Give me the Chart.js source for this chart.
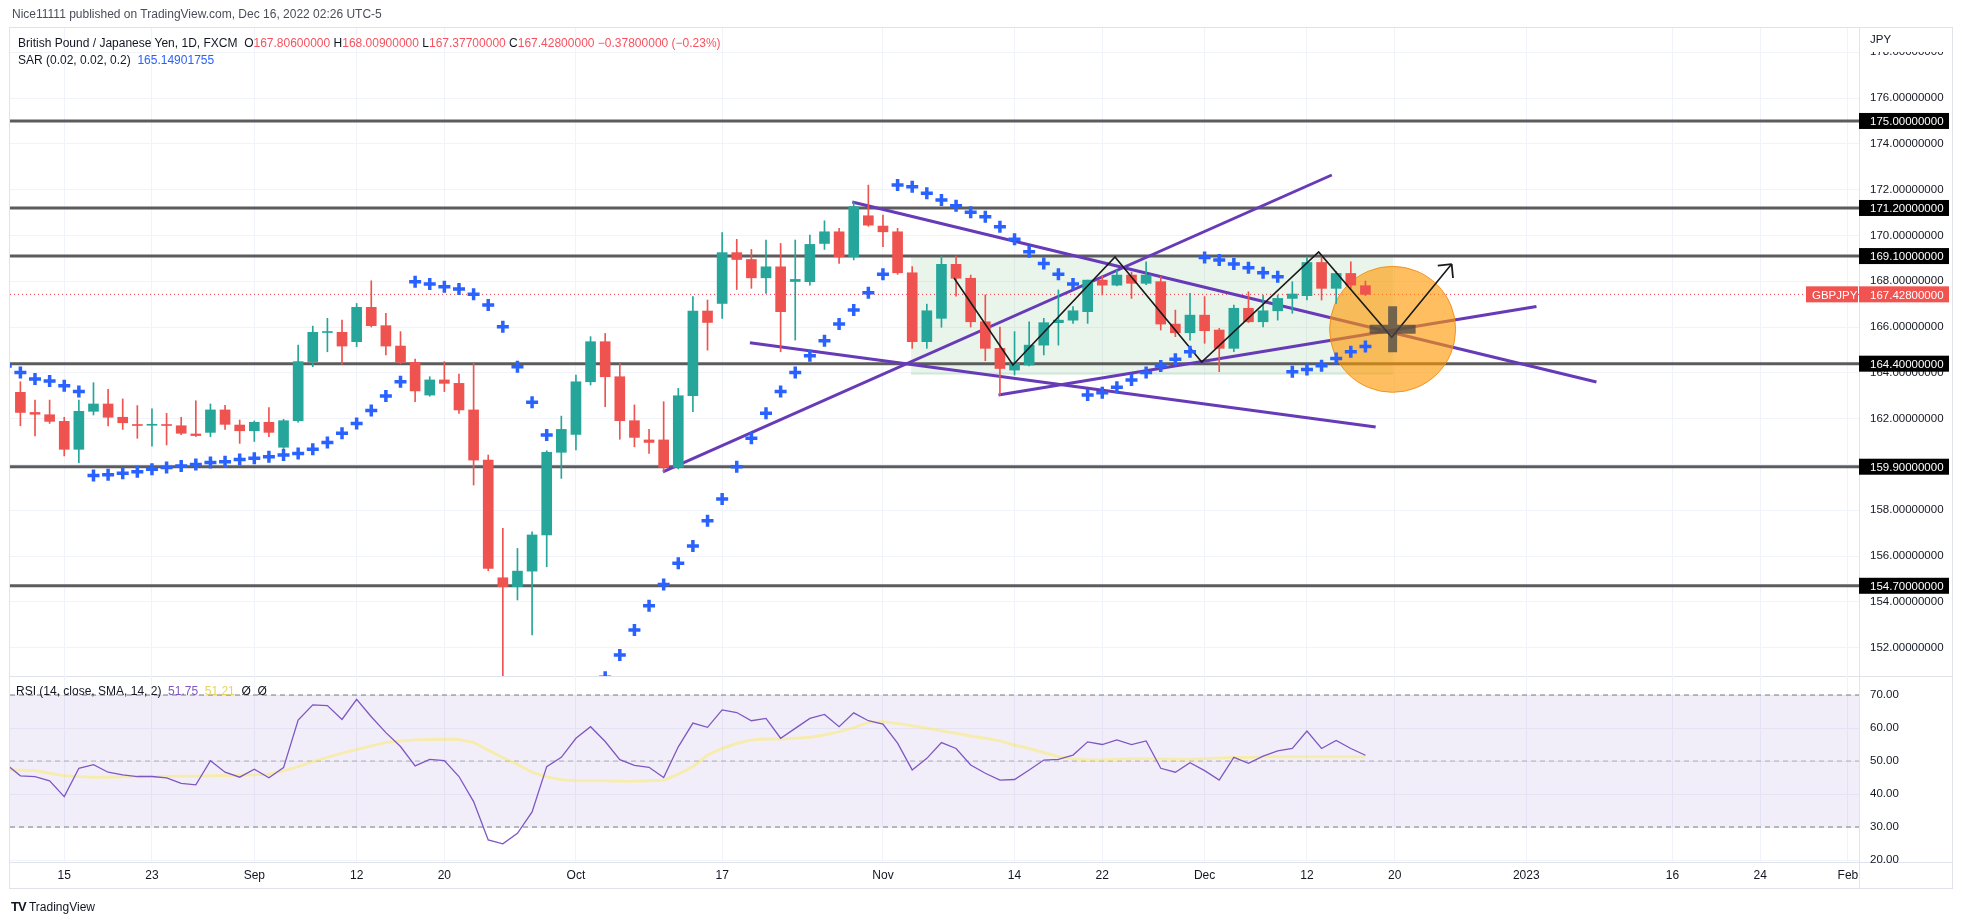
<!DOCTYPE html>
<html>
<head>
<meta charset="utf-8">
<title>GBPJPY 1D</title>
<script src="https://cdn.jsdelivr.net/npm/chart.js@4.4.1/dist/chart.umd.min.js"></script>
<style>
  html, body { margin: 0; padding: 0; background: #fff; }
  body { position: relative; width: 1963px; height: 924px; overflow: hidden;
         font-family: 'Liberation Sans', Arial, sans-serif; color: #131722; }
  .t { position: absolute; white-space: nowrap; font-size: 12px; line-height: 14px; }
  .ln { position: absolute; background: #e0e3eb; }
  canvas { position: absolute; left: 0; }
  .red { color: #f7525f; }
  .blue { color: #2962ff; }
</style>
</head>
<body>
<div class="ln" style="left:9px;top:27px;width:1944px;height:1px"></div>
<div class="ln" style="left:9px;top:888px;width:1944px;height:1px"></div>
<div class="ln" style="left:9px;top:27px;width:1px;height:862px"></div>
<div class="ln" style="left:1952px;top:27px;width:1px;height:862px"></div>
<div class="ln" style="left:1859px;top:27px;width:1px;height:862px"></div>
<div class="ln" style="left:9px;top:676px;width:1944px;height:1px"></div>
<div class="ln" style="left:9px;top:862px;width:1944px;height:1px"></div>

<canvas id="price" width="1963" height="676" style="top:0"></canvas>
<canvas id="rsi" width="1963" height="248" style="top:676px"></canvas>

<div class="t" style="left:12px;top:7px;color:#4a4e59">Nice11111 published on TradingView.com, Dec 16, 2022 02:26 UTC-5</div>
<div class="t" style="left:18px;top:36px">British Pound / Japanese Yen, 1D, FXCM&nbsp;&nbsp;O<span class="red">167.80600000</span>&nbsp;H<span class="red">168.00900000</span>&nbsp;L<span class="red">167.37700000</span>&nbsp;C<span class="red">167.42800000</span>&nbsp;<span class="red">−0.37800000 (−0.23%)</span></div>
<div class="t" style="left:18px;top:53px">SAR (0.02, 0.02, 0.2)&nbsp;&nbsp;<span class="blue">165.14901755</span></div>
<div class="t" style="left:16px;top:684px">RSI (14, close, SMA, 14, 2)&nbsp;&nbsp;<span style="color:#7e57c2">51.75</span>&nbsp;&nbsp;<span style="color:#e6d45c">51.21</span>&nbsp;&nbsp;Ø&nbsp;&nbsp;Ø</div>
<div class="t" style="left:11px;top:900px"><b style="font-size:13px;letter-spacing:-1px">TV</b>&nbsp;TradingView</div>

<script>
// trading days shown, Aug 9 .. Dec 16 2022
const dates = [
  'Aug 9','Aug 10','Aug 11','Aug 12','Aug 15','Aug 16','Aug 17','Aug 18','Aug 19','Aug 22','Aug 23','Aug 24','Aug 25','Aug 26','Aug 29','Aug 30','Aug 31',
  'Sep 1','Sep 2','Sep 5','Sep 6','Sep 7','Sep 8','Sep 9','Sep 12','Sep 13','Sep 14','Sep 15','Sep 16','Sep 19','Sep 20','Sep 21','Sep 22','Sep 23','Sep 26','Sep 27','Sep 28','Sep 29','Sep 30',
  'Oct 3','Oct 4','Oct 5','Oct 6','Oct 7','Oct 10','Oct 11','Oct 12','Oct 13','Oct 14','Oct 17','Oct 18','Oct 19','Oct 20','Oct 21','Oct 24','Oct 25','Oct 26','Oct 27','Oct 28','Oct 31',
  'Nov 1','Nov 2','Nov 3','Nov 4','Nov 7','Nov 8','Nov 9','Nov 10','Nov 11','Nov 14','Nov 15','Nov 16','Nov 17','Nov 18','Nov 21','Nov 22','Nov 23','Nov 24','Nov 25','Nov 28','Nov 29','Nov 30',
  'Dec 1','Dec 2','Dec 5','Dec 6','Dec 7','Dec 8','Dec 9','Dec 12','Dec 13','Dec 14','Dec 15','Dec 16'
];

const open = [null,
  163.15,162.27,162.17,161.88,160.66,162.32,162.64,162.06,161.71,161.71,161.73,161.69,161.33,161.40,162.38,161.72,
  161.47,161.84,160.75,161.91,164.49,165.76,165.77,165.36,166.86,166.06,165.17,164.46,163.03,163.69,163.54,162.38,160.19,155.05,154.66,155.34,156.92,160.53,
  161.31,163.61,165.36,163.83,161.91,161.07,161.07,159.87,163.00,166.70,167.03,169.25,168.95,168.15,168.63,167.99,167.98,169.65,170.16,169.07,170.86,
  170.41,170.16,168.37,165.36,166.38,168.74,168.13,166.23,165.07,164.12,164.34,165.21,166.19,166.30,166.67,168.05,167.83,168.27,167.91,167.98,166.13,165.75,
  166.52,165.87,165.07,166.82,166.23,166.71,167.25,167.37,168.82,167.69,168.34,167.806];
const high = [null,
  163.61,162.81,162.81,162.06,162.81,163.57,163.28,162.86,162.57,162.43,162.23,162.06,162.78,162.64,162.58,161.94,
  161.90,162.48,161.97,165.21,166.04,166.38,166.30,167.03,168.02,166.60,165.80,164.60,163.83,164.49,163.95,164.42,160.41,157.21,156.33,157.06,160.60,162.11,
  163.90,165.58,165.72,164.41,162.60,161.53,162.74,163.32,167.33,167.18,170.13,169.83,169.39,169.80,169.65,169.80,170.02,170.64,170.31,171.47,172.20,
  170.89,170.31,168.64,167.00,169.10,169.10,168.27,167.40,166.00,165.80,166.23,166.38,167.62,166.89,168.05,168.25,168.49,168.40,168.85,168.20,166.74,167.47,
  167.33,165.94,166.96,167.54,167.40,167.40,167.98,169.07,169.14,168.42,168.85,168.009];
const low = [null,
  161.69,161.24,161.79,160.37,160.08,162.16,161.68,161.53,161.14,160.80,160.85,161.30,161.22,161.21,161.53,160.92,
  161.00,161.21,160.69,161.85,164.27,164.92,164.37,165.14,166.00,164.78,164.40,162.74,162.98,163.18,162.23,159.10,155.36,148.90,154.08,152.55,155.53,159.39,
  160.63,163.47,162.52,161.10,160.77,160.48,159.68,159.80,162.30,164.99,166.38,167.64,167.69,167.47,164.92,165.43,167.83,169.39,168.78,168.93,170.40,
  169.51,168.30,165.07,165.07,165.99,167.35,166.00,164.53,163.03,163.90,164.30,164.78,165.21,166.16,166.16,167.40,167.80,167.25,167.85,165.87,165.58,165.43,
  165.29,164.05,164.92,166.20,166.00,166.30,166.60,167.18,167.18,167.03,167.69,167.377];
const close = [null,
  162.27,162.19,161.88,160.66,162.32,162.64,162.06,161.82,161.70,161.72,161.70,161.36,161.26,162.38,161.75,161.47,
  161.84,161.40,161.91,164.49,165.77,165.78,165.17,166.86,166.06,165.17,164.46,163.21,163.69,163.54,162.38,160.19,155.46,154.66,155.34,156.92,160.53,161.53,
  163.61,165.36,163.83,161.91,161.18,160.96,159.87,163.00,166.70,166.20,169.25,168.95,168.15,168.63,166.67,168.08,169.61,170.16,169.07,171.26,170.45,
  170.16,168.37,165.36,166.71,168.74,168.13,166.23,165.07,164.19,164.41,165.21,166.19,166.30,166.71,168.05,167.83,168.27,167.91,168.27,166.13,165.75,166.52,
  165.84,165.07,166.82,166.23,166.71,167.25,167.44,168.82,167.69,168.34,167.83,167.428];

const sar = [
  164.30,164.01,163.73,163.64,163.44,163.18,159.52,159.55,159.61,159.68,159.79,159.87,159.93,160.00,160.08,160.12,160.22,
  160.27,160.34,160.41,160.48,160.66,160.96,161.36,161.79,162.35,162.99,163.61,167.98,167.88,167.76,167.66,167.43,166.96,166.01,164.27,162.71,161.28,148.90,
  149.16,149.75,150.70,151.68,152.77,153.83,154.76,155.68,156.44,157.54,158.49,159.90,161.14,162.23,163.18,164.01,164.75,165.40,166.13,166.74,167.50,
  168.31,172.20,172.13,171.84,171.55,171.30,171.01,170.82,170.38,169.83,169.29,168.78,168.31,167.88,163.03,163.13,163.37,163.69,164.01,164.30,164.59,164.92,
  169.04,168.93,168.75,168.59,168.37,168.20,164.05,164.15,164.31,164.63,164.92,165.149];

const rsi = [
  49.1,45.5,45.3,44.0,39.2,47.8,48.9,46.6,45.8,45.3,45.3,44.9,43.2,42.8,50.1,46.6,45.1,
  47.5,44.9,48.0,62.4,67.0,66.8,62.6,68.7,63.4,58.6,54.4,48.5,50.5,50.1,45.3,37.7,26.1,24.9,28.1,34.6,48.3,51.1,
  56.9,60.4,55.9,50.4,48.7,48.1,45.0,54.3,61.5,60.2,65.5,64.7,62.2,62.9,56.9,59.9,62.9,64.1,60.4,64.6,62.2,
  61.2,55.4,47.3,50.8,55.6,53.8,48.8,46.3,44.2,44.4,47.3,50.3,50.5,51.8,55.8,55.0,56.4,55.0,56.1,47.8,46.6,49.5,
  47.1,44.2,51.1,49.3,51.5,53.1,53.8,59.1,53.8,56.2,53.8,51.75];
const rsiMa = [
  47.3,47.2,47.1,46.3,45.5,45.3,45.1,45.1,45.2,45.2,45.3,45.3,45.4,45.4,45.5,45.6,45.7,
  45.8,46.0,47.0,48.3,49.8,51.1,52.4,53.5,54.6,55.6,56.1,56.4,56.5,56.6,56.5,55.6,53.3,51.0,49.0,46.6,45.2,44.3,
  44.0,44.0,44.0,43.9,43.9,44.0,44.2,46.0,48.3,51.8,53.8,55.3,56.4,56.7,56.7,56.9,57.2,57.9,58.9,60.1,61.7,
  61.9,61.4,60.7,59.9,59.2,58.4,57.6,56.9,56.1,54.8,53.8,52.6,51.3,50.7,50.3,50.3,50.5,50.7,50.7,50.6,50.5,50.5,
  50.7,50.9,51.1,51.1,51.3,51.3,51.3,51.3,51.3,51.3,51.3,51.3];

// time axis: bar index of each label (future bars continue the daily count)
const tickPos = [4,10,17,24,30,39,49,60,69,75,82,89,95,104,114,120,126];
const tickLabels = ['15','23','Sep','12','20','Oct','17','Nov','14','22','Dec','12','20','2023','16','24','Feb'];
const priceTicks = [152,154,156,158,160,162,164,166,168,170,172,174,176,178];
const rsiTicks = [20,30,40,50,60,70];

// drawings (bar index, price)
const levels = [175, 171.2, 169.1, 164.4, 159.9, 154.7];
const lastPrice = 167.428;
const trendLines = [
  [[44.95,159.67],[90.7,172.64]],
  [[57.9,171.46],[108.8,163.6]],
  [[50.9,165.31],[93.7,161.63]],
  [[67.9,163.03],[104.7,166.9]]
];
const zigX = [64.86,68.89,75.87,81.8,89.8,94.8,98.9];
const zigY = [168.14,164.34,169.06,164.47,169.28,165.55,168.75];
const boxX = [61.92,94.9];
const boxY = [163.95,169.1];
const target = {x: 94.86, y: 165.9};

const X_MIN = 0.29, X_MAX = 126.76;
const GREEN = '#26a69a', RED = '#ef5350';

Chart.defaults.font.family = "'Liberation Sans', Arial, sans-serif";
Chart.defaults.font.size = 12;
Chart.defaults.color = '#131722';
Chart.defaults.animation = false;

const bars = dates.map((d, i) => i).filter(i => open[i] !== null);
const candleColor = ctx => (ctx.raw && close[ctx.raw.x] >= open[ctx.raw.x]) ? GREEN : RED;
const flat = y => [{x: X_MIN, y}, {x: X_MAX, y}];
const lineSet = (data, color, width, order, extra) => Object.assign({
  type: 'line', data, borderColor: color, borderWidth: width, pointRadius: 0, order, fill: false
}, extra || {});

const xAxis = showLabels => ({
  type: 'linear', min: X_MIN, max: X_MAX, offset: false,
  afterBuildTicks: s => { s.ticks = tickPos.map(value => ({value})); },
  ticks: { display: showLabels, autoSkip: false, maxRotation: 0, padding: 6,
           callback: (v, i) => tickLabels[i] },
  grid: { color: '#f0f3fa', drawTicks: false, offset: false },
  border: { display: false },
  afterFit: s => { s.height = showLabels ? 26 : 0; s.paddingLeft = 0; s.paddingRight = 0; }
});
const yAxis = (min, max, tickVals, digits) => ({
  type: 'linear', position: 'right', min, max, beginAtZero: false,
  afterBuildTicks: s => { s.ticks = tickVals.map(value => ({value})); },
  ticks: { padding: 11, font: {size: 11.5}, callback: v => v.toFixed(digits) },
  grid: { color: '#f0f3fa', drawTicks: false },
  border: { display: false },
  afterFit: s => { s.width = 93; s.paddingTop = 0; s.paddingBottom = 0; }
});

const axisTags = {
  id: 'axisTags',
  afterDraw(chart) {
    const {ctx, chartArea} = chart;
    const y = chart.scales.y;
    const left = chartArea.right;
    ctx.save();
    ctx.font = "11.5px 'Liberation Sans', Arial, sans-serif";
    ctx.textBaseline = 'middle';
    ctx.fillStyle = '#fff';
    ctx.fillRect(left + 1, chartArea.top, 92, 24);
    ctx.fillStyle = '#131722';
    ctx.fillText('JPY', left + 11, chartArea.top + 12);
    levels.forEach(v => {
      const py = y.getPixelForValue(v);
      ctx.fillStyle = '#000';
      ctx.fillRect(left, py - 8, 90, 16);
      ctx.fillStyle = '#fff';
      ctx.fillText(v.toFixed(8), left + 11, py + 1);
    });
    const py = y.getPixelForValue(lastPrice);
    ctx.fillStyle = '#f05350';
    ctx.fillRect(left, py - 8, 90, 16);
    ctx.fillRect(left - 53, py - 8, 52, 16);
    ctx.fillStyle = '#fff';
    ctx.fillText(lastPrice.toFixed(8), left + 11, py + 1);
    ctx.fillText('GBPJPY', left - 47, py + 1);
    ctx.restore();
  }
};

const arrowHead = {
  id: 'arrowHead',
  afterDatasetsDraw(chart) {
    const idx = chart.data.datasets.findIndex(d => d.label === 'zigzag');
    const pts = chart.getDatasetMeta(idx).data;
    const a = pts[pts.length - 2], b = pts[pts.length - 1];
    const ang = Math.atan2(b.y - a.y, b.x - a.x);
    const ctx = chart.ctx;
    ctx.save();
    ctx.strokeStyle = '#1a1a1a';
    ctx.lineWidth = 1.8;
    ctx.beginPath();
    [-1, 1].forEach(s => {
      ctx.moveTo(b.x, b.y);
      ctx.lineTo(b.x - 14 * Math.cos(ang + s * 0.78), b.y - 14 * Math.sin(ang + s * 0.78));
    });
    ctx.stroke();
    ctx.restore();
  }
};

const priceSets = [
  lineSet([{x: boxX[0], y: boxY[1]}, {x: boxX[1], y: boxY[1]}], 'rgba(76,175,80,0.3)', 1, 40,
          {fill: {value: boxY[0]}, backgroundColor: 'rgba(76,175,80,0.12)'}),
  lineSet([{x: boxX[0], y: boxY[0]}, {x: boxX[1], y: boxY[0]}], 'rgba(76,175,80,0.3)', 1, 40),
  ...levels.map(v => lineSet(flat(v), '#5c5c5c', 3, 35)),
  lineSet(flat(lastPrice), '#f23645', 1, 34, {borderDash: [1, 3]}),
  ...trendLines.map(t => lineSet(t.map(([x, y]) => ({x, y})), '#673ab7', 3, 30)),
  { type: 'bubble', data: [{x: target.x, y: target.y, r: 63}],
    backgroundColor: 'rgba(255,152,0,0.62)', borderColor: 'rgba(240,140,20,0.9)', borderWidth: 1, order: 20 },
  { type: 'bar', data: bars.map(i => ({x: i, y: [low[i], high[i]]})), grouped: false,
    barThickness: 1, backgroundColor: candleColor, order: 15 },
  { type: 'bar', data: bars.map(i => ({x: i, y: [open[i], close[i]]})), grouped: false,
    barThickness: 10, minBarLength: 1, backgroundColor: candleColor, order: 14 },
  lineSet(zigX.map((x, i) => ({x, y: zigY[i]})), '#1a1a1a', 1.6, 8, {label: 'zigzag'}),
  { type: 'scatter', data: [{x: target.x, y: target.y}], pointStyle: 'cross', pointRadius: 23,
    borderColor: 'rgba(70,70,70,0.75)', borderWidth: 9, order: 6 },
  { type: 'scatter', data: sar.map((v, i) => ({x: i, y: v})), pointStyle: 'cross', pointRadius: 6,
    borderColor: '#2962ff', borderWidth: 3.5, order: 4 }
];

new Chart(document.getElementById('price'), {
  type: 'bar',
  data: { datasets: priceSets },
  options: {
    responsive: false,
    devicePixelRatio: 1,
    events: [],
    layout: { autoPadding: false, padding: {left: 10, right: 11, top: 28, bottom: 0} },
    plugins: { legend: {display: false}, tooltip: {enabled: false} },
    scales: { x: xAxis(false), y: yAxis(150.76, 179.06, priceTicks, 8) }
  },
  plugins: [axisTags, arrowHead]
});

new Chart(document.getElementById('rsi'), {
  type: 'line',
  data: { datasets: [
    lineSet(flat(70), '#787b86', 1, 20, {borderDash: [5, 4], fill: {value: 30}, backgroundColor: 'rgba(126,87,194,0.1)'}),
    lineSet(flat(50), 'rgba(120,123,134,0.55)', 1, 19, {borderDash: [5, 4]}),
    lineSet(flat(30), '#787b86', 1, 18, {borderDash: [5, 4]}),
    lineSet(rsiMa.map((v, i) => ({x: i, y: v})), 'rgba(255,235,59,0.38)', 3, 10),
    lineSet(rsi.map((v, i) => ({x: i, y: v})), '#7e57c2', 1.3, 5)
  ] },
  options: {
    responsive: false,
    devicePixelRatio: 1,
    events: [],
    layout: { autoPadding: false, padding: {left: 10, right: 11, top: 0, bottom: 36} },
    plugins: { legend: {display: false}, tooltip: {enabled: false} },
    scales: { x: xAxis(true), y: yAxis(19.4, 75.76, rsiTicks, 2) }
  }
});
</script>
</body>
</html>
